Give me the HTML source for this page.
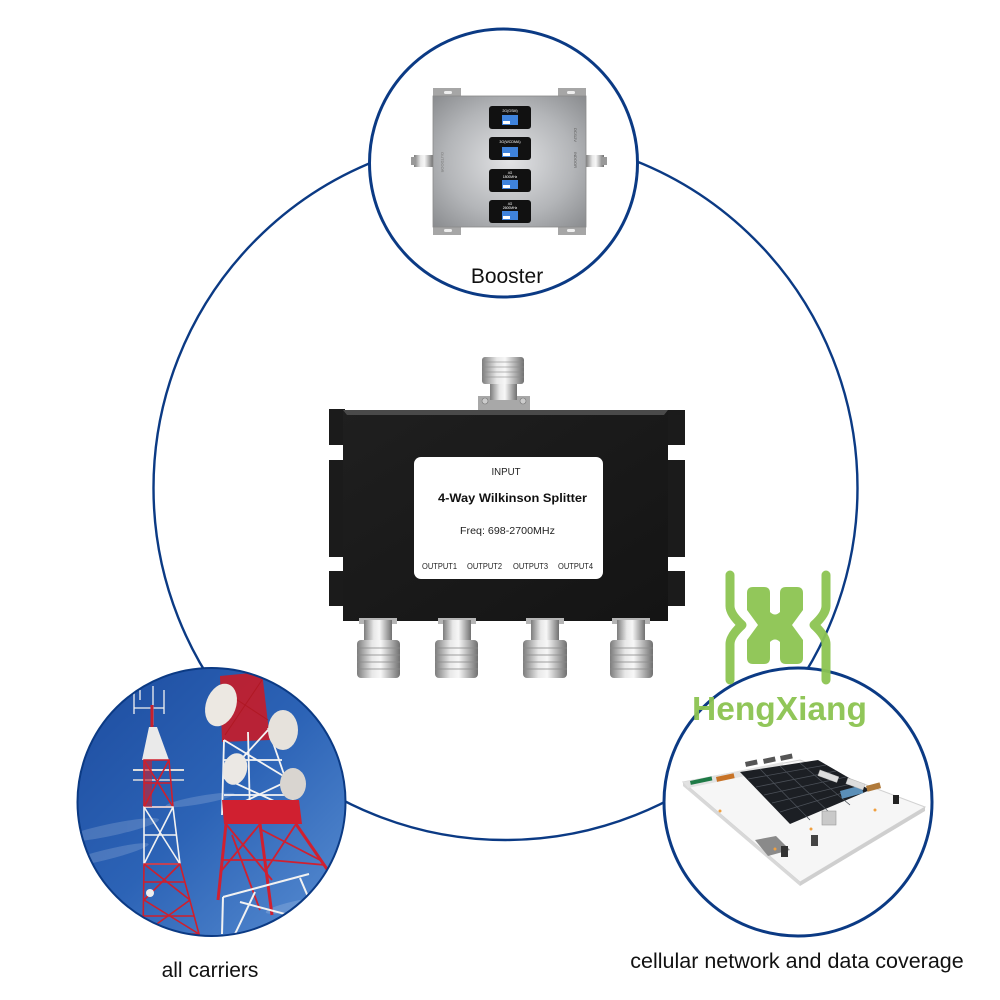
<!DOCTYPE html>
<html>
<head>
<meta charset="utf-8">
<style>
html,body{margin:0;padding:0;background:#fff;}
svg{display:block;}
text{font-family:"Liberation Sans",sans-serif;}
</style>
</head>
<body>
<svg width="1000" height="1000" viewBox="0 0 1000 1000" xmlns="http://www.w3.org/2000/svg">
<defs>
  <linearGradient id="silver" x1="0" y1="0" x2="1" y2="0">
    <stop offset="0" stop-color="#7c7c7c"/>
    <stop offset="0.35" stop-color="#e8e8e8"/>
    <stop offset="0.55" stop-color="#f7f7f7"/>
    <stop offset="1" stop-color="#707070"/>
  </linearGradient>
  <radialGradient id="plate" cx="0.5" cy="0.5" r="0.7">
    <stop offset="0" stop-color="#e2e3e5"/>
    <stop offset="0.6" stop-color="#b3b5b8"/>
    <stop offset="1" stop-color="#8a8c8f"/>
  </radialGradient>
  <linearGradient id="blk" x1="0" y1="0" x2="1" y2="1">
    <stop offset="0" stop-color="#1f1f1f"/>
    <stop offset="1" stop-color="#141414"/>
  </linearGradient>
  <linearGradient id="sky" x1="0" y1="0" x2="1" y2="1">
    <stop offset="0" stop-color="#1d4c9f"/>
    <stop offset="0.5" stop-color="#2c63b6"/>
    <stop offset="1" stop-color="#5a8fd3"/>
  </linearGradient>
  <clipPath id="cc"><circle cx="211.5" cy="802" r="134"/></clipPath>
  <clipPath id="dc"><circle cx="798" cy="802" r="134"/></clipPath>
</defs>

<!-- big connecting circle -->
<circle cx="505.5" cy="488" r="352" fill="none" stroke="#0b3a84" stroke-width="2.4"/>

<!-- ===== Booster circle ===== -->
<circle cx="503.5" cy="163" r="134" fill="#fff" stroke="#0b3a84" stroke-width="3"/>
<g>
  <rect x="414" y="155" width="19" height="12" fill="url(#silver)"/>
  <rect x="411" y="157" width="5" height="8" fill="#999"/>
  <rect x="586" y="155" width="18" height="12" fill="url(#silver)"/>
  <rect x="602" y="157" width="5" height="8" fill="#999"/>
  <rect x="433" y="88" width="28" height="10" fill="#a6a6a6"/>
  <rect x="558" y="88" width="28" height="10" fill="#a6a6a6"/>
  <rect x="433" y="225" width="28" height="10" fill="#a6a6a6"/>
  <rect x="558" y="225" width="28" height="10" fill="#a6a6a6"/>
  <rect x="444" y="91" width="8" height="3" rx="1.5" fill="#eee"/>
  <rect x="567" y="91" width="8" height="3" rx="1.5" fill="#eee"/>
  <rect x="444" y="229" width="8" height="3" rx="1.5" fill="#eee"/>
  <rect x="567" y="229" width="8" height="3" rx="1.5" fill="#eee"/>
  <rect x="433" y="96" width="153" height="131" fill="url(#plate)"/>
  <rect x="433" y="96" width="153" height="131" fill="none" stroke="#8a8a8a" stroke-width="0.8"/>
  <text x="574" y="128" font-size="4" fill="#555" transform="rotate(90 574 128)">DC/12V</text>
  <text x="574" y="152" font-size="4" fill="#555" transform="rotate(90 574 152)">INDOOR</text>
  <text x="441" y="152" font-size="4" fill="#777" transform="rotate(90 441 152)">OUTDOOR</text>
  <g>
    <rect x="489" y="106" width="42" height="23" rx="3" fill="#111"/>
    <text x="510" y="112" font-size="3.6" fill="#fff" text-anchor="middle">2G(GSM)</text>
    <rect x="502" y="115" width="16" height="10" fill="#3f83dc"/>
    <rect x="503" y="121" width="7" height="3" fill="#fff"/>
    <rect x="489" y="137" width="42" height="23" rx="3" fill="#111"/>
    <text x="510" y="143" font-size="3.6" fill="#fff" text-anchor="middle">3G(WCDMA)</text>
    <rect x="502" y="147" width="16" height="10" fill="#3f83dc"/>
    <rect x="503" y="153" width="7" height="3" fill="#fff"/>
    <rect x="489" y="169" width="42" height="23" rx="3" fill="#111"/>
    <text x="510" y="174" font-size="3.4" fill="#fff" text-anchor="middle">4G</text>
    <text x="510" y="178" font-size="3.4" fill="#fff" text-anchor="middle">1800MHz</text>
    <rect x="502" y="180" width="16" height="9" fill="#3f83dc"/>
    <rect x="503" y="185" width="7" height="3" fill="#fff"/>
    <rect x="489" y="200" width="42" height="23" rx="3" fill="#111"/>
    <text x="510" y="205" font-size="3.4" fill="#fff" text-anchor="middle">4G</text>
    <text x="510" y="209" font-size="3.4" fill="#fff" text-anchor="middle">2600MHz</text>
    <rect x="502" y="211" width="16" height="9" fill="#3f83dc"/>
    <rect x="503" y="216" width="7" height="3" fill="#fff"/>
  </g>
</g>
<text x="507" y="283" font-size="21" fill="#111" text-anchor="middle">Booster</text>

<!-- ===== Splitter ===== -->
<g>
  <rect x="478" y="396" width="52" height="15" fill="#a8a8a8"/>
  <circle cx="485" cy="401" r="3" fill="#ccc" stroke="#777" stroke-width="0.6"/>
  <circle cx="523" cy="401" r="3" fill="#ccc" stroke="#777" stroke-width="0.6"/>
  <rect x="490" y="382" width="27" height="18" fill="url(#silver)"/>
  <rect x="482" y="357" width="42" height="27" rx="3" fill="url(#silver)"/>
  <g stroke="#8a8a8a" stroke-width="0.8" opacity="0.8">
    <line x1="482" y1="362" x2="524" y2="362"/>
    <line x1="482" y1="367" x2="524" y2="367"/>
    <line x1="482" y1="372" x2="524" y2="372"/>
    <line x1="482" y1="377" x2="524" y2="377"/>
  </g>
  <g fill="#1b1b1b">
    <rect x="329" y="409" width="16" height="36"/>
    <rect x="329" y="460" width="16" height="97"/>
    <rect x="329" y="571" width="16" height="35"/>
    <rect x="666" y="410" width="19" height="35"/>
    <rect x="666" y="460" width="19" height="97"/>
    <rect x="666" y="571" width="19" height="35"/>
  </g>
  <rect x="343" y="410" width="325" height="211" fill="url(#blk)"/>
  <polygon points="343,410 668,410 664,415 347,415" fill="#4a4a4a"/>
  <rect x="414" y="457" width="189" height="122" rx="7" fill="#fff"/>
  <text x="506" y="475" font-size="10" fill="#222" text-anchor="middle" textLength="29" lengthAdjust="spacingAndGlyphs">INPUT</text>
  <text x="438" y="502" font-size="12" font-weight="bold" fill="#111" textLength="149" lengthAdjust="spacingAndGlyphs">4-Way Wilkinson Splitter</text>
  <text x="460" y="534" font-size="10.5" fill="#222" textLength="95" lengthAdjust="spacingAndGlyphs">Freq: 698-2700MHz</text>
  <text x="422" y="569" font-size="8" fill="#222" textLength="35" lengthAdjust="spacingAndGlyphs">OUTPUT1</text>
  <text x="467" y="569" font-size="8" fill="#222" textLength="35" lengthAdjust="spacingAndGlyphs">OUTPUT2</text>
  <text x="513" y="569" font-size="8" fill="#222" textLength="35" lengthAdjust="spacingAndGlyphs">OUTPUT3</text>
  <text x="558" y="569" font-size="8" fill="#222" textLength="35" lengthAdjust="spacingAndGlyphs">OUTPUT4</text>
  <g>
    <rect x="359" y="618" width="38" height="6" fill="#b5b5b5"/>
    <rect x="364" y="620" width="28" height="22" fill="url(#silver)"/>
    <rect x="357" y="640" width="43" height="38" rx="4" fill="url(#silver)"/>
    <rect x="438" y="618" width="38" height="6" fill="#b5b5b5"/>
    <rect x="443" y="620" width="28" height="22" fill="url(#silver)"/>
    <rect x="435" y="640" width="43" height="38" rx="4" fill="url(#silver)"/>
    <rect x="526" y="618" width="38" height="6" fill="#b5b5b5"/>
    <rect x="531" y="620" width="28" height="22" fill="url(#silver)"/>
    <rect x="523" y="640" width="44" height="38" rx="4" fill="url(#silver)"/>
    <rect x="612" y="618" width="38" height="6" fill="#b5b5b5"/>
    <rect x="617" y="620" width="28" height="22" fill="url(#silver)"/>
    <rect x="610" y="640" width="43" height="38" rx="4" fill="url(#silver)"/>
    <g stroke="#8a8a8a" stroke-width="0.9" opacity="0.8">
      <line x1="357" y1="648" x2="400" y2="648"/><line x1="357" y1="655" x2="400" y2="655"/><line x1="357" y1="662" x2="400" y2="662"/><line x1="357" y1="669" x2="400" y2="669"/>
      <line x1="435" y1="648" x2="478" y2="648"/><line x1="435" y1="655" x2="478" y2="655"/><line x1="435" y1="662" x2="478" y2="662"/><line x1="435" y1="669" x2="478" y2="669"/>
      <line x1="523" y1="648" x2="567" y2="648"/><line x1="523" y1="655" x2="567" y2="655"/><line x1="523" y1="662" x2="567" y2="662"/><line x1="523" y1="669" x2="567" y2="669"/>
      <line x1="610" y1="648" x2="653" y2="648"/><line x1="610" y1="655" x2="653" y2="655"/><line x1="610" y1="662" x2="653" y2="662"/><line x1="610" y1="669" x2="653" y2="669"/>
    </g>
  </g>
</g>

<!-- ===== Carriers circle (tower photo) ===== -->
<g clip-path="url(#cc)">
  <rect x="76" y="667" width="272" height="272" fill="url(#sky)"/>
  <g fill="#fff" opacity="0.16">
    <ellipse cx="110" cy="830" rx="50" ry="6" transform="rotate(-12 110 830)"/>
    <ellipse cx="105" cy="855" rx="45" ry="5" transform="rotate(-14 105 855)"/>
    <ellipse cx="200" cy="800" rx="35" ry="4" transform="rotate(-10 200 800)"/>
    <ellipse cx="300" cy="905" rx="35" ry="5" transform="rotate(-12 300 905)"/>
  </g>
  <!-- left tower -->
  <g stroke="#f2f2f2" stroke-width="1.3" fill="none">
    <line x1="153" y1="686" x2="153" y2="725"/>
    <line x1="134" y1="690" x2="134" y2="714"/>
    <line x1="164" y1="690" x2="164" y2="714"/>
    <line x1="134" y1="708" x2="164" y2="708"/>
    <line x1="140" y1="690" x2="140" y2="700"/>
  </g>
  <line x1="152" y1="705" x2="152" y2="727" stroke="#c8202c" stroke-width="3"/>
  <polygon points="149,727 157,727 169,760 142,760" fill="#eaeaea"/>
  <line x1="133" y1="770" x2="184" y2="770" stroke="#ddd" stroke-width="2"/>
  <line x1="133" y1="780" x2="184" y2="780" stroke="#ddd" stroke-width="1.5"/>
  <!-- left tower lattice sections -->
  <g fill="none" stroke-width="1.6">
    <g stroke="#cf1f2c">
      <polygon points="144,760 169,760 173,807 144,807"/>
      <line x1="144" y1="760" x2="173" y2="807"/><line x1="169" y1="760" x2="144" y2="807"/>
      <line x1="144" y1="783" x2="171" y2="783"/>
    </g>
    <g stroke="#f2f2f2">
      <polygon points="144,807 173,807 180,864 144,864"/>
      <line x1="144" y1="807" x2="180" y2="864"/><line x1="173" y1="807" x2="144" y2="864"/>
      <line x1="144" y1="835" x2="177" y2="835"/>
    </g>
    <g stroke="#cf1f2c">
      <polygon points="144,864 180,864 199,934 143,934"/>
      <line x1="144" y1="864" x2="190" y2="900"/><line x1="180" y1="864" x2="144" y2="900"/>
      <line x1="144" y1="900" x2="199" y2="934"/><line x1="190" y1="900" x2="143" y2="934"/>
      <line x1="144" y1="882" x2="185" y2="882"/><line x1="144" y1="916" x2="194" y2="916"/>
    </g>
  </g>
  <rect x="144" y="760" width="8" height="47" fill="#cf1f2c" opacity="0.6"/>
  <circle cx="150" cy="893" r="4" fill="#eee"/>
  <!-- right tower -->
  <polygon points="220,676 262,672 270,740 222,742" fill="#c81c28" opacity="0.9"/>
  <g stroke="#b01824" stroke-width="1">
    <line x1="222" y1="690" x2="268" y2="720"/><line x1="262" y1="680" x2="225" y2="735"/>
  </g>
  <g stroke="#f4f4f4" stroke-width="1.8" fill="none">
    <line x1="224" y1="740" x2="222" y2="815"/>
    <line x1="268" y1="728" x2="298" y2="815"/>
    <line x1="248" y1="732" x2="250" y2="815"/>
    <line x1="224" y1="740" x2="290" y2="780"/>
    <line x1="268" y1="730" x2="224" y2="778"/>
    <line x1="224" y1="778" x2="298" y2="812"/>
    <line x1="290" y1="780" x2="222" y2="812"/>
    <line x1="224" y1="760" x2="282" y2="760"/>
    <line x1="224" y1="795" x2="294" y2="795"/>
  </g>
  <!-- red platform + legs lattice -->
  <polygon points="222,800 299,800 302,824 224,824" fill="#d02030"/>
  <g stroke="#d02030" stroke-width="3" fill="none">
    <line x1="226" y1="824" x2="218" y2="900"/>
    <line x1="296" y1="824" x2="329" y2="872"/>
    <line x1="260" y1="824" x2="272" y2="915"/>
  </g>
  <g stroke="#d02030" stroke-width="1.8" fill="none">
    <line x1="226" y1="824" x2="272" y2="880"/>
    <line x1="260" y1="824" x2="222" y2="870"/>
    <line x1="262" y1="830" x2="320" y2="860"/>
    <line x1="296" y1="824" x2="266" y2="870"/>
    <line x1="222" y1="860" x2="270" y2="860"/>
    <line x1="270" y1="860" x2="325" y2="865"/>
    <line x1="232" y1="835" x2="260" y2="910"/>
  </g>
  <g stroke="#f2f2f2" stroke-width="2" fill="none">
    <line x1="223" y1="897" x2="309" y2="874"/>
    <line x1="222" y1="934" x2="223" y2="897"/>
    <line x1="240" y1="902" x2="300" y2="918"/>
    <line x1="300" y1="878" x2="318" y2="920"/>
    <line x1="255" y1="892" x2="235" y2="934"/>
  </g>
  <ellipse cx="221" cy="705" rx="15" ry="22" fill="#ece8e2" transform="rotate(20 221 705)"/>
  <ellipse cx="283" cy="730" rx="15" ry="20" fill="#e6e2dc"/>
  <ellipse cx="235" cy="769" rx="12" ry="16" fill="#ebe8e4" transform="rotate(15 235 769)"/>
  <ellipse cx="293" cy="784" rx="13" ry="16" fill="#d9d5d0"/>
</g>
<circle cx="211.5" cy="802" r="134" fill="none" stroke="#0b3a84" stroke-width="2"/>
<text x="210" y="977" font-size="21" fill="#111" text-anchor="middle">all carriers</text>

<!-- ===== Data coverage circle ===== -->
<circle cx="798" cy="802" r="134" fill="#fff" stroke="#0b3a84" stroke-width="3"/>
<g clip-path="url(#dc)">
  <polygon points="683,782 800,760 925,807 800,882" fill="#f6f6f6" stroke="#d2d2d2" stroke-width="1"/>
  <polygon points="683,782 800,882 800,886 683,786" fill="#d8d8d8"/>
  <polygon points="800,882 925,807 925,811 800,886" fill="#cfcfcf"/>
  <polygon points="683,782 783,762 783,768 688,788" fill="#e2e2e2"/>
  <rect x="690" y="781" width="22" height="4" fill="#1e7a46" transform="rotate(-12 690 781)"/>
  <rect x="716" y="777" width="18" height="5" fill="#c87327" transform="rotate(-12 716 777)"/>
  <rect x="755" y="771" width="14" height="4" fill="#a52a2a" transform="rotate(-12 755 771)"/>
  <rect x="745" y="762" width="12" height="5" fill="#555" transform="rotate(-12 745 762)"/>
  <rect x="763" y="759" width="12" height="5" fill="#555" transform="rotate(-12 763 759)"/>
  <rect x="780" y="756" width="12" height="5" fill="#555" transform="rotate(-12 780 756)"/>
  <polygon points="740,772 818,760 870,790 790,824" fill="#1c1f24"/>
  <g stroke="#4b5058" stroke-width="0.8">
    <line x1="748" y1="779" x2="826" y2="765"/>
    <line x1="756" y1="787" x2="836" y2="771"/>
    <line x1="764" y1="795" x2="846" y2="777"/>
    <line x1="772" y1="803" x2="855" y2="783"/>
    <line x1="780" y1="812" x2="862" y2="787"/>
    <line x1="760" y1="769" x2="810" y2="820"/>
    <line x1="780" y1="766" x2="830" y2="813"/>
    <line x1="800" y1="763" x2="850" y2="805"/>
  </g>
  <rect x="822" y="811" width="14" height="14" fill="#c9c9c9" stroke="#999" stroke-width="0.6"/>
  <rect x="840" y="791" width="22" height="8" fill="#5b8fb8" transform="rotate(-15 840 791)"/>
  <rect x="866" y="786" width="14" height="6" fill="#b07a3a" transform="rotate(-15 866 786)"/>
  <rect x="893" y="795" width="6" height="9" fill="#222"/>
  <rect x="820" y="770" width="20" height="6" fill="#ddd" stroke="#bbb" stroke-width="0.5" transform="rotate(20 820 770)"/>
  <rect x="848" y="778" width="18" height="6" fill="#ddd" stroke="#bbb" stroke-width="0.5" transform="rotate(20 848 778)"/>
  <polygon points="755,840 776,836 790,850 768,856" fill="#8a8a8a"/>
  <rect x="781" y="846" width="7" height="11" fill="#333"/>
  <rect x="811" y="835" width="7" height="11" fill="#444"/>
  <circle cx="720" cy="811" r="1.5" fill="#f0a040"/>
  <circle cx="811" cy="829" r="1.5" fill="#f0a040"/>
  <circle cx="775" cy="849" r="1.5" fill="#f0a040"/>
  <circle cx="875" cy="810" r="1.5" fill="#f0a040"/>
</g>
<text x="797" y="968" font-size="21.5" fill="#111" text-anchor="middle">cellular network and data coverage</text>

<!-- ===== HengXiang logo ===== -->
<g fill="#8cc451" opacity="0.95">
  <path d="M 770 612 L 770 593 Q 770 587 764 587 L 753 587 Q 747 587 747 593 L 747 610 L 758 625 L 747 640 L 747 658 Q 747 664 753 664 L 764 664 Q 770 664 770 658 L 770 642 Q 775 637 780 642 L 780 658 Q 780 664 786 664 L 797 664 Q 803 664 803 658 L 803 640 L 792 625 L 803 610 L 803 593 Q 803 587 797 587 L 786 587 Q 780 587 780 593 L 780 612 Q 775 617 770 612 Z"/>
</g>
<g fill="none" stroke="#8cc451" stroke-width="9" stroke-linecap="round" stroke-linejoin="round" opacity="0.95">
  <path d="M 730 575 L 730 606 Q 730 614 742 625 Q 730 636 730 644 L 730 680"/>
  <path d="M 826 575 L 826 606 Q 826 614 814 625 Q 826 636 826 644 L 826 680"/>
</g>
<text x="692" y="720" font-size="33.5" font-weight="bold" fill="#8cc451" opacity="0.95" textLength="175" lengthAdjust="spacingAndGlyphs">HengXiang</text>
</svg>
</body>
</html>
